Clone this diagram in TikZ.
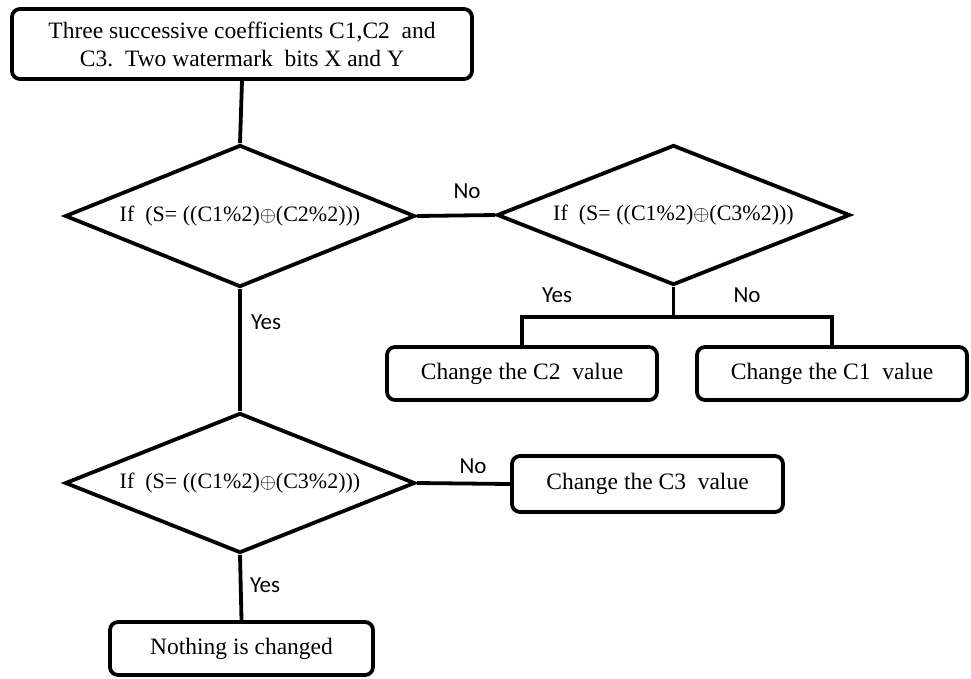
\documentclass[tikz,border=0pt]{standalone}
\usepackage{fontspec}
\setmainfont{Liberation Serif}
\newfontfamily\lblfont{Carlito}
\usetikzlibrary{shapes.geometric}
\begin{document}
\begin{tikzpicture}[x=1pt,y=-1pt,
  line width=3.8pt,
  box/.style={draw, rounded corners=8pt, rectangle, inner sep=0pt, align=center,
    font=\fontsize{23.5}{28}\selectfont},
  dec/.style={draw, diamond, aspect=2.5, inner sep=0pt, font=\fontsize{22}{24}\selectfont},
  lbl/.style={font=\lblfont\fontsize{23}{24}\selectfont, inner sep=0pt},
  conn/.style={line width=3.8pt}]
\useasboundingbox (0,0) rectangle (971,678);
\node[box, minimum width=460pt, minimum height=70pt] (top) at (242,44)
  {Three successive coefficients C1,C2\ \ and\\C3.\ \ Two watermark\ \ bits X and Y};
\node[dec, minimum width=350pt, minimum height=142pt] (d1) at (240,216)
  {If\ \ (S= ((C1\%2)$\oplus$(C2\%2)))};
\node[dec, minimum width=353pt, minimum height=140pt] (d2) at (673.5,215)
  {If\ \ (S= ((C1\%2)$\oplus$(C3\%2)))};
\node[box, minimum width=270pt, minimum height=53pt] (c2) at (522,373.5) {Change the C2\ \ value};
\node[box, minimum width=270pt, minimum height=53pt] (c1) at (832,373.5) {Change the C1\ \ value};
\node[dec, minimum width=350pt, minimum height=140pt] (d3) at (240,483)
  {If\ \ (S= ((C1\%2)$\oplus$(C3\%2)))};
\node[box, minimum width=271pt, minimum height=56pt] (c3) at (647.5,484) {Change the C3\ \ value};
\node[box, minimum width=263pt, minimum height=53pt] (nc) at (241.5,648.5) {Nothing is changed};
\coordinate (j) at (673.5,317);
\draw[conn] (top.south) -- (d1.north);
\draw[conn] (d1.east) -- (d2.west);
\draw[conn] (d2.south) -- (j);
\draw[conn] (c2.north) |- (j) -| (c1.north);
\draw[conn] (d1.south) -- (d3.north);
\draw[conn] (d3.east) -- (c3.west);
\draw[conn] (d3.south) -- (nc.north);
\node[lbl] (l1) at (467,191) {No};
\node[lbl] (l2) at (557,295) {Yes};
\node[lbl] (l3) at (747,295) {No};
\node[lbl] (l4) at (266,322) {Yes};
\node[lbl] (l5) at (473,466) {No};
\node[lbl] (l6) at (265,585) {Yes};
\end{tikzpicture}
\end{document}
